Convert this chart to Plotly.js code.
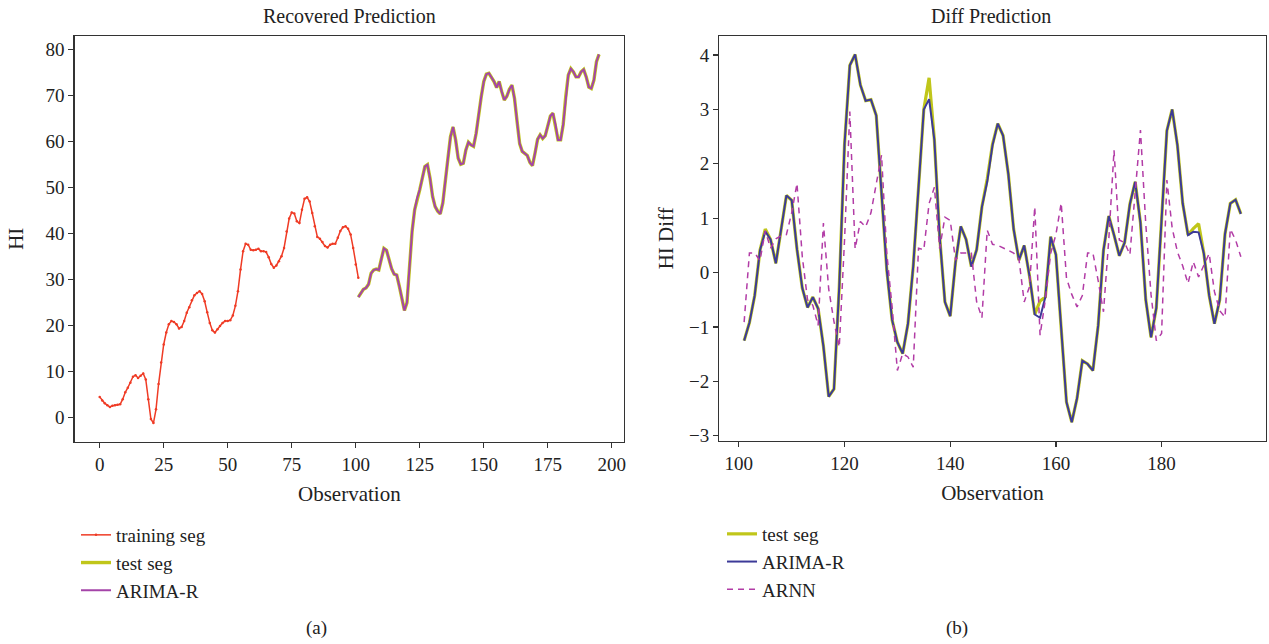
<!DOCTYPE html>
<html>
<head>
<meta charset="utf-8">
<script src="https://cdn.plot.ly/plotly-3.0.1.min.js"></script>
<style>html,body{margin:0;padding:0;background:#fff;}#chart{width:1269px;height:644px;}</style>
</head>
<body>
<div id="chart"></div>
<script>
// ---- data ----
const trainStart = 0;
const trainingSeg = [4.4,3.6,3.0,2.6,2.2,2.5,2.6,2.7,2.8,3.9,
  5.4,6.4,7.5,8.8,9.1,8.5,9.0,9.5,8.2,3.9,
  -0.4,-1.3,1.7,7.2,11.9,15.8,18.4,20.2,20.9,20.7,
  20.2,19.3,19.6,20.9,22.7,23.9,25.4,26.5,27.0,27.4,
  26.8,25.2,22.8,20.5,18.9,18.4,19.1,19.8,20.5,20.9,
  20.9,21.1,22.1,24.2,27.4,32.1,36.1,37.7,37.5,36.4,
  36.3,36.4,36.6,36.1,36.1,35.9,34.8,33.3,32.5,33.0,
  33.9,35.0,36.8,40.4,43.2,44.5,44.3,42.6,42.2,45.1,
  47.5,47.8,46.9,44.4,41.5,39.2,38.8,38.1,37.2,36.9,
  37.5,37.7,37.7,39.0,40.5,41.3,41.5,41.0,39.7,36.8,
  33.2,30.3];

const testStart = 101;
const testSeg = [26.1,27.0,27.8,28.1,28.9,31.3,32.0,32.2,32.0,34.4,
  36.7,36.3,34.1,32.3,31.1,30.9,28.5,25.6,23.2,24.9,
  32.8,40.4,45.1,47.7,49.5,52.0,54.5,54.9,52.0,48.0,
  45.8,44.8,44.2,46.6,50.9,56.3,61.0,63.1,60.3,56.3,
  55.0,55.2,58.1,59.8,59.2,58.9,61.7,66.1,69.7,73.0,
  74.6,74.8,74.0,73.0,71.7,73.0,70.8,69.0,69.8,71.3,
  72.2,69.3,64.3,59.5,57.8,57.3,56.9,55.4,54.7,57.4,
  60.4,61.4,60.6,61.2,63.2,65.5,66.1,63.6,60.3,60.3,
  63.6,69.7,74.4,75.8,75.1,74.0,74.0,75.1,75.6,74.0,
  71.8,71.5,73.3,77.3,78.9];
const arimaRecovered = testSeg.slice();

const diffTestSeg = [-1.25,-0.92,-0.42,0.41,0.80,0.61,0.17,0.78,1.42,1.33,
  0.43,-0.28,-0.64,-0.45,-0.66,-1.35,-2.28,-2.14,-0.26,2.36,
  3.81,4.01,3.45,3.16,3.18,2.89,1.55,0.04,-0.87,-1.28,
  -1.49,-0.94,0.12,1.55,3.00,3.58,2.44,0.66,-0.54,-0.80,
  0.19,0.85,0.61,0.11,0.42,1.21,1.72,2.36,2.74,2.52,
  1.81,0.80,0.23,0.50,-0.06,-0.77,-0.52,-0.45,0.66,0.33,
  -1.10,-2.38,-2.75,-2.31,-1.62,-1.68,-1.80,-0.97,0.41,1.04,
  0.69,0.31,0.55,1.26,1.67,0.92,-0.50,-1.19,-0.65,1.03,
  2.61,3.00,2.34,1.27,0.69,0.81,0.90,0.35,-0.42,-0.94,
  -0.50,0.71,1.27,1.34,1.08];
const diffArima = [-1.25,-0.92,-0.42,0.41,0.76,0.61,0.17,0.78,1.42,1.33,
  0.43,-0.28,-0.64,-0.45,-0.66,-1.35,-2.28,-2.14,-0.26,2.36,
  3.81,4.01,3.45,3.16,3.18,2.89,1.55,0.04,-0.87,-1.28,
  -1.49,-0.94,0.12,1.55,3.00,3.19,2.44,0.66,-0.54,-0.80,
  0.19,0.85,0.61,0.11,0.42,1.21,1.67,2.34,2.74,2.52,
  1.81,0.80,0.23,0.50,-0.06,-0.77,-0.83,-0.45,0.66,0.33,
  -1.10,-2.38,-2.75,-2.31,-1.62,-1.68,-1.80,-0.97,0.41,1.04,
  0.69,0.31,0.55,1.26,1.67,0.92,-0.50,-1.19,-0.65,1.03,
  2.61,3.00,2.34,1.27,0.69,0.75,0.74,0.35,-0.42,-0.94,
  -0.50,0.71,1.27,1.34,1.08];
const diffArnn = [-0.91,0.36,0.36,0.22,0.77,0.45,0.62,0.68,0.70,1.10,
  1.64,0.30,-0.50,-0.60,-0.97,0.91,-0.30,-0.90,-1.37,0.60,
  2.96,0.44,0.94,0.84,1.10,1.60,2.16,0.35,-0.63,-1.80,
  -1.49,-1.55,-1.74,0.45,0.42,1.27,1.57,0.44,1.02,0.96,
  0.23,0.36,0.36,0.36,-0.54,-0.83,0.78,0.52,0.50,0.46,
  0.41,0.36,0.25,-0.54,-0.26,1.21,-1.15,-0.50,0.35,0.70,
  1.28,-0.10,-0.40,-0.63,-0.42,0.36,0.36,-0.15,-0.72,0.60,
  2.25,0.60,0.55,0.33,1.45,2.62,0.90,-0.40,-1.25,-1.12,
  1.70,0.82,0.38,0.12,-0.20,0.20,-0.08,0.14,0.35,-0.35,
  -0.70,-0.82,0.80,0.60,0.29];

const leftXTicks = [0,25,50,75,100,125,150,175,200];
const leftYTicks = [0,10,20,30,40,50,60,70,80];
const rightXTicks = [100,120,140,160,180];
const rightYTicks = [-3,-2,-1,0,1,2,3,4];

// observation indices
function obs(start, n){ const a=[]; for(let i=0;i<n;i++) a.push(start+i); return a; }
const trainX = obs(trainStart, trainingSeg.length);
const testX = obs(testStart, testSeg.length);

const FONT = "Liberation Serif, Times New Roman, serif";
const W = 1269, H = 644;
const px = v => v / W;
const py = v => 1 - v / H;

const traces = [
  {x: trainX, y: trainingSeg, xaxis:'x', yaxis:'y', name:'training seg', legend:'legend',
   mode:'lines+markers', line:{color:'#ef3b25', width:1.5}, marker:{size:2.5, color:'#ef3b25'}},
  {x: testX, y: testSeg, xaxis:'x', yaxis:'y', name:'test seg', legend:'legend',
   mode:'lines', line:{color:'#c0c61a', width:3.4}},
  {x: testX, y: arimaRecovered, xaxis:'x', yaxis:'y', name:'ARIMA-R', legend:'legend',
   mode:'lines', line:{color:'#a444a8', width:2}},
  {x: testX, y: diffTestSeg, xaxis:'x2', yaxis:'y2', name:'test seg', legend:'legend2',
   mode:'lines', line:{color:'#c0c61a', width:3.2}},
  {x: testX, y: diffArima, xaxis:'x2', yaxis:'y2', name:'ARIMA-R', legend:'legend2',
   mode:'lines', line:{color:'#3c3a98', width:2}},
  {x: testX, y: diffArnn, xaxis:'x2', yaxis:'y2', name:'ARNN', legend:'legend2',
   mode:'lines', line:{color:'#b23ca6', width:1.5, dash:'6px,5px'}}
];

const axisBase = {
  showline:true, mirror:true, linecolor:'#333', linewidth:1.3,
  ticks:'outside', ticklen:5, tickwidth:1.2, tickcolor:'#333',
  showgrid:false, zeroline:false, automargin:false,
  tickfont:{family:FONT, size:19, color:'#222'}
};
const titleFont = {family:FONT, size:21, color:'#222'};

const layout = {
  width:W, height:H,
  margin:{l:0, r:0, t:0, b:0},
  paper_bgcolor:'#fff', plot_bgcolor:'#fff',
  showlegend:true,
  xaxis: Object.assign({}, axisBase, {domain:[px(74.7), px(624)], anchor:'y',
    range:[-9.75, 204.75], tickmode:'array', tickvals:leftXTicks,
    title:{text:'Observation', font:titleFont, standoff:12}}),
  yaxis: Object.assign({}, axisBase, {domain:[py(441.5), py(36)], anchor:'x',
    range:[-5.3, 82.9], tickmode:'array', tickvals:leftYTicks,
    title:{text:'HI', font:titleFont, standoff:16}}),
  xaxis2: Object.assign({}, axisBase, {domain:[px(719.3), px(1265.7)], anchor:'y2',
    range:[96.3, 199.7], tickmode:'array', tickvals:rightXTicks,
    title:{text:'Observation', font:titleFont, standoff:12}}),
  yaxis2: Object.assign({}, axisBase, {domain:[py(440.7), py(36)], anchor:'x2',
    range:[-3.09, 4.35], tickmode:'array', tickvals:rightYTicks,
    title:{text:'HI Diff', font:titleFont, standoff:9}}),
  legend:{x:px(76), y:py(516), xanchor:'left', yanchor:'top', bgcolor:'rgba(0,0,0,0)',
    font:{family:FONT, size:19, color:'#222'}, tracegroupgap:0},
  legend2:{x:px(722), y:py(515), xanchor:'left', yanchor:'top', bgcolor:'rgba(0,0,0,0)',
    font:{family:FONT, size:19, color:'#222'}, tracegroupgap:0},
  annotations:[
    {text:'Recovered Prediction', x:px(349), y:py(16), xref:'paper', yref:'paper',
     showarrow:false, xanchor:'center', yanchor:'middle', font:{family:FONT, size:20, color:'#222'}},
    {text:'Diff Prediction', x:px(991), y:py(16), xref:'paper', yref:'paper',
     showarrow:false, xanchor:'center', yanchor:'middle', font:{family:FONT, size:20, color:'#222'}},
    {text:'(a)', x:px(316), y:py(628), xref:'paper', yref:'paper',
     showarrow:false, xanchor:'center', yanchor:'middle', font:{family:FONT, size:19, color:'#222'}},
    {text:'(b)', x:px(957), y:py(628), xref:'paper', yref:'paper',
     showarrow:false, xanchor:'center', yanchor:'middle', font:{family:FONT, size:19, color:'#222'}}
  ]
};

Plotly.newPlot('chart', traces, layout, {displayModeBar:false, staticPlot:true});
</script>
</body>
</html>
